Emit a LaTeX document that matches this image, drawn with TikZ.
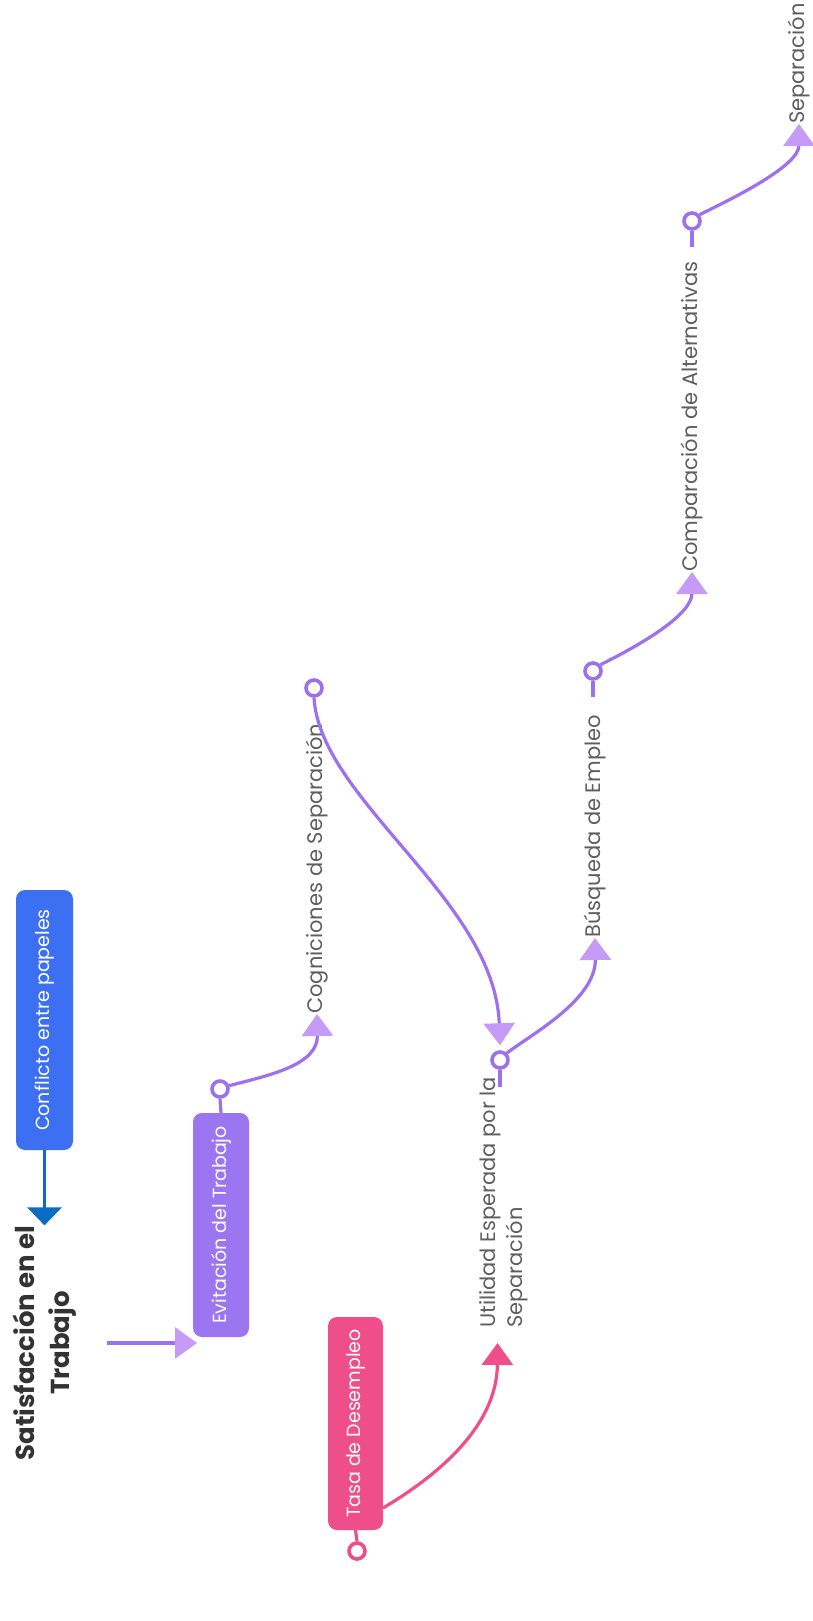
\documentclass[tikz,border=0pt]{standalone}
\usepackage{fontspec}
\setmainfont{Poppins}
\usetikzlibrary{arrows.meta,calc}
\definecolor{cblue}{HTML}{3D6FF2}
\definecolor{cbluearrow}{HTML}{0C6BC3}
\definecolor{cpurplebox}{HTML}{9B76F0}
\definecolor{cpink}{HTML}{EE4F8B}
\definecolor{cline}{HTML}{9C70EE}
\definecolor{clav}{HTML}{C69AF7}
\definecolor{ctxt}{HTML}{5E5E5E}
\definecolor{ctitle}{HTML}{333333}
\begin{document}
\begin{tikzpicture}[x=1pt,y=-1pt,
  boxst/.style={rotate=90, rounded corners=9pt, inner sep=0pt, outer sep=0pt, text=white,
    font=\fontsize{19}{24}\selectfont},
  lbl/.style={rotate=90, inner sep=0pt, anchor=west, text=ctxt, font=\fontsize{21}{27}\selectfont},
  knob/.style={circle, draw=cline, fill=white, line width=3.6pt, minimum size=16pt, inner sep=0pt},
  pline/.style={draw=cline, line width=3.2pt},
  ptip/.style={-{Triangle[width=31pt,length=22pt,color=clav]}},
]
\useasboundingbox (0,0) rectangle (813,1621);

% boxes
\node[boxst, fill=cblue, minimum width=260pt, minimum height=57pt] (conf) at (44.5,1020) {Conflicto entre papeles};
\node[boxst, fill=cpurplebox, minimum width=224pt, minimum height=56pt] (evit) at (221,1225) {Evitación del Trabajo};
\node[boxst, fill=cpink, minimum width=213pt, minimum height=55pt] (tasa) at (355.5,1423.5) {Tasa de Desempleo};

% title
\node[rotate=90, inner sep=0pt, align=center, text=ctitle, font=\bfseries\fontsize{26}{35}\selectfont] (title) at (44.5,1343) {Satisfacción en el\\Trabajo};

% labels
\node[lbl] (cogn) at (317,1014) {Cogniciones de Separación};
\node[lbl, align=left] (util) at (503.5,1328) {Utilidad Esperada por la\\Separación};
\node[lbl] (busq) at (595,938) {Búsqueda de Empleo};
\node[lbl] (comp) at (692,572) {Comparación de Alternativas};
\node[lbl] (sep) at (799,124) {Separación};

% knobs
\node[knob] (cEvit) at (220,1089) {};
\node[knob] (cCogn) at (314,688) {};
\node[knob] (cUtil) at (500,1060) {};
\node[knob] (cBusq) at (593,671) {};
\node[knob] (cComp) at (692,221) {};
\node[knob, draw=cpink] (cTasa) at (357,1551) {};

% blue arrow
\draw[draw=cbluearrow, line width=3.5pt, -{Triangle[width=34pt,length=18pt,color=cbluearrow]}] (conf.west) -- (title.east);

% title -> evitacion
\coordinate (tStart) at (107,1343);
\draw[pline, ptip] (tStart) -- ($(evit.north west)+(4,6)$);

% stubs
\draw[pline] (evit.east) -- (cEvit.south);
\draw[pline] (cUtil.south) -- ++(0,17);
\draw[pline] (cBusq.south) -- ++(0,16);
\draw[pline] (cComp.south) -- ++(0,16);
\draw[draw=cpink, line width=3.2pt] (tasa.west) -- (cTasa.north);

% curves
\draw[pline, ptip] (cEvit.20) .. controls (270,1075) and (318,1065) .. (cogn.west);
\draw[pline, ptip] (cCogn.south) .. controls (320,800) and (495,900) .. ($(cUtil.north)+(0,-5)$);
\draw[pline, ptip] (cUtil.45) .. controls (530,1035) and (596,1000) .. (busq.west);
\draw[pline, ptip] (cBusq.40) .. controls (640,645) and (692,615) .. (comp.west);
\draw[pline, ptip] (cComp.40) .. controls (740,195) and (799,165) .. (sep.west);
\draw[draw=cpink, line width=3.2pt, -{Triangle[width=31pt,length=22pt,color=cpink]}] ($(tasa.south west)+(0,-22)$) .. controls (430,1480) and (497,1430) .. ($(util.west)+(-6,15)$);
\end{tikzpicture}
\end{document}
